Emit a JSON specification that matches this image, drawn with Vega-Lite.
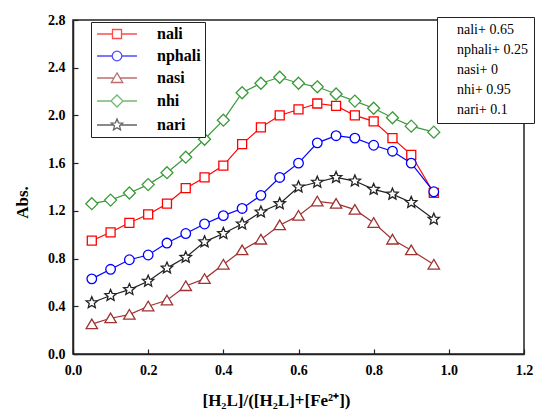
{
  "$schema": "https://vega.github.io/schema/vega-lite/v6.json",
  "width": 451,
  "height": 334,
  "autosize": "none",
  "padding": {"left": 73, "top": 20, "right": 13, "bottom": 59},
  "config": {
    "view": {"stroke": "#222", "strokeWidth": 1.5},
    "font": "Liberation Serif",
    "axis": {"domainColor": "#222", "domainWidth": 1.5, "tickColor": "#222", "tickWidth": 1.2, "grid": false, "labelFont": "Liberation Serif", "labelFontWeight": "bold", "labelFontSize": 14, "labelColor": "#000", "titleFont": "Liberation Serif", "titleFontWeight": "bold", "titleFontSize": 17, "titleColor": "#000"},
    "legend": {"labelFont": "Liberation Serif"}
  },
  "data": {"values": [
    {"series":"nali","x":0.05,"y":0.95},{"series":"nali","x":0.10,"y":1.02},{"series":"nali","x":0.15,"y":1.10},{"series":"nali","x":0.20,"y":1.17},{"series":"nali","x":0.25,"y":1.26},{"series":"nali","x":0.30,"y":1.39},{"series":"nali","x":0.35,"y":1.48},{"series":"nali","x":0.40,"y":1.58},{"series":"nali","x":0.45,"y":1.76},{"series":"nali","x":0.50,"y":1.90},{"series":"nali","x":0.55,"y":2.00},{"series":"nali","x":0.60,"y":2.05},{"series":"nali","x":0.65,"y":2.10},{"series":"nali","x":0.70,"y":2.08},{"series":"nali","x":0.75,"y":2.00},{"series":"nali","x":0.80,"y":1.95},{"series":"nali","x":0.85,"y":1.81},{"series":"nali","x":0.90,"y":1.67},{"series":"nali","x":0.96,"y":1.35},
    {"series":"nphali","x":0.05,"y":0.63},{"series":"nphali","x":0.10,"y":0.71},{"series":"nphali","x":0.15,"y":0.79},{"series":"nphali","x":0.20,"y":0.83},{"series":"nphali","x":0.25,"y":0.93},{"series":"nphali","x":0.30,"y":1.01},{"series":"nphali","x":0.35,"y":1.09},{"series":"nphali","x":0.40,"y":1.16},{"series":"nphali","x":0.45,"y":1.22},{"series":"nphali","x":0.50,"y":1.33},{"series":"nphali","x":0.55,"y":1.48},{"series":"nphali","x":0.60,"y":1.60},{"series":"nphali","x":0.65,"y":1.77},{"series":"nphali","x":0.70,"y":1.83},{"series":"nphali","x":0.75,"y":1.81},{"series":"nphali","x":0.80,"y":1.75},{"series":"nphali","x":0.85,"y":1.70},{"series":"nphali","x":0.90,"y":1.60},{"series":"nphali","x":0.96,"y":1.36},
    {"series":"nasi","x":0.05,"y":0.25},{"series":"nasi","x":0.10,"y":0.30},{"series":"nasi","x":0.15,"y":0.33},{"series":"nasi","x":0.20,"y":0.40},{"series":"nasi","x":0.25,"y":0.45},{"series":"nasi","x":0.30,"y":0.57},{"series":"nasi","x":0.35,"y":0.63},{"series":"nasi","x":0.40,"y":0.75},{"series":"nasi","x":0.45,"y":0.87},{"series":"nasi","x":0.50,"y":0.96},{"series":"nasi","x":0.55,"y":1.08},{"series":"nasi","x":0.60,"y":1.16},{"series":"nasi","x":0.65,"y":1.28},{"series":"nasi","x":0.70,"y":1.26},{"series":"nasi","x":0.75,"y":1.21},{"series":"nasi","x":0.80,"y":1.10},{"series":"nasi","x":0.85,"y":0.96},{"series":"nasi","x":0.90,"y":0.87},{"series":"nasi","x":0.96,"y":0.75},
    {"series":"nhi","x":0.05,"y":1.26},{"series":"nhi","x":0.10,"y":1.29},{"series":"nhi","x":0.15,"y":1.35},{"series":"nhi","x":0.20,"y":1.42},{"series":"nhi","x":0.25,"y":1.52},{"series":"nhi","x":0.30,"y":1.65},{"series":"nhi","x":0.35,"y":1.80},{"series":"nhi","x":0.40,"y":1.96},{"series":"nhi","x":0.45,"y":2.19},{"series":"nhi","x":0.50,"y":2.27},{"series":"nhi","x":0.55,"y":2.32},{"series":"nhi","x":0.60,"y":2.27},{"series":"nhi","x":0.65,"y":2.24},{"series":"nhi","x":0.70,"y":2.18},{"series":"nhi","x":0.75,"y":2.12},{"series":"nhi","x":0.80,"y":2.06},{"series":"nhi","x":0.85,"y":1.98},{"series":"nhi","x":0.90,"y":1.91},{"series":"nhi","x":0.96,"y":1.86},
    {"series":"nari","x":0.05,"y":0.43},{"series":"nari","x":0.10,"y":0.49},{"series":"nari","x":0.15,"y":0.54},{"series":"nari","x":0.20,"y":0.61},{"series":"nari","x":0.25,"y":0.72},{"series":"nari","x":0.30,"y":0.81},{"series":"nari","x":0.35,"y":0.94},{"series":"nari","x":0.40,"y":1.01},{"series":"nari","x":0.45,"y":1.09},{"series":"nari","x":0.50,"y":1.19},{"series":"nari","x":0.55,"y":1.26},{"series":"nari","x":0.60,"y":1.40},{"series":"nari","x":0.65,"y":1.44},{"series":"nari","x":0.70,"y":1.48},{"series":"nari","x":0.75,"y":1.45},{"series":"nari","x":0.80,"y":1.38},{"series":"nari","x":0.85,"y":1.34},{"series":"nari","x":0.90,"y":1.27},{"series":"nari","x":0.96,"y":1.13}
  ]},
  "layer": [
    {
      "mark": {"type": "line", "strokeWidth": 1.2},
      "encoding": {
        "x": {"field": "x", "type": "quantitative", "scale": {"domain": [0, 1.2], "nice": false},
          "axis": {"title": "[H₂L]/([H₂L]+[Fe²⁺])", "values": [0,0.1,0.2,0.3,0.4,0.5,0.6,0.7,0.8,0.9,1.0,1.1,1.2],
            "labelExpr": "round(datum.value*10) % 2 == 0 ? format(datum.value, '.1f') : ''",
            "tickSize": {"condition": {"test": "round(datum.value*10) % 2 == 0", "value": -5}, "value": -3},
            "labelPadding": 14, "titlePadding": 15, "titleX": 203, "labelFlush": false, "labelOverlap": false}},
        "y": {"field": "y", "type": "quantitative", "scale": {"domain": [0, 2.8], "nice": false},
          "axis": {"title": "Abs.", "values": [0,0.2,0.4,0.6,0.8,1.0,1.2,1.4,1.6,1.8,2.0,2.2,2.4,2.6,2.8],
            "labelExpr": "round(datum.value*10) % 4 == 0 ? format(datum.value, '.1f') : ''",
            "tickSize": {"condition": {"test": "round(datum.value*10) % 4 == 0", "value": -5}, "value": -3},
            "labelPadding": 13, "titlePadding": 16, "titleY": 182, "labelOverlap": false}},
        "color": {"field": "series", "type": "nominal",
          "scale": {"domain": ["nali","nphali","nasi","nhi","nari"], "range": ["#ff0000","#0000ff","#a03232","#3a9a3a","#222222"]},
          "legend": null}
      }
    },
    {
      "mark": {"type": "point", "filled": false, "fill": "white", "fillOpacity": 1, "strokeWidth": 1.3, "size": 144, "opacity": 1},
      "encoding": {
        "x": {"field": "x", "type": "quantitative"},
        "y": {"field": "y", "type": "quantitative"},
        "color": {"field": "series", "type": "nominal",
          "scale": {"domain": ["nali","nphali","nasi","nhi","nari"], "range": ["#ff0000","#0000ff","#a03232","#3a9a3a","#222222"]},
          "legend": null},
        "shape": {"field": "series", "type": "nominal",
          "scale": {"domain": ["nali","nphali","nasi","nhi","nari"], "range": [
            "M-0.75,-0.75H0.75V0.75H-0.75Z",
            "M0.8,0A0.8,0.8,0,1,1,-0.8,0A0.8,0.8,0,1,1,0.8,0Z",
            "M0,-0.85L0.95,0.75L-0.95,0.75Z",
            "M0,-1L1,0L0,1L-1,0Z",
            "M0,-1L0.2645,-0.364L0.951,-0.309L0.428,0.139L0.588,0.809L0,0.45L-0.588,0.809L-0.428,0.139L-0.951,-0.309L-0.2645,-0.364Z"
          ]},
          "legend": null}
      }
    },
    {
      "mark": {"type": "point", "filled": false, "size": 0},
      "encoding": {
        "color": {"field": "series", "type": "nominal",
          "scale": {"domain": ["nali","nphali","nasi","nhi","nari"], "range": ["#ff0000","#0000ff","#a03232","#3a9a3a","#222222"]},
          "legend": {"title": null, "orient": "none", "legendX": 18, "legendY": 2, "padding": 4, "strokeColor": "#222", "fillColor": "white", "symbolSize": 144, "symbolStrokeWidth": 1.3, "symbolFillColor": "white", "symbolOffset": 14, "labelOffset": 32, "labelFont": "Liberation Serif", "labelFontWeight": "bold", "labelFontSize": 16, "labelColor": "#000", "rowPadding": 6}},
        "shape": {"field": "series", "type": "nominal",
          "scale": {"domain": ["nali","nphali","nasi","nhi","nari"], "range": [
            "M-3.33,0H-0.75M0.75,0H3.33M-0.75,-0.75H0.75V0.75H-0.75Z",
            "M-3.33,0H-0.8M0.8,0H3.33M0.8,0A0.8,0.8,0,1,1,-0.8,0A0.8,0.8,0,1,1,0.8,0Z",
            "M-3.33,0H-0.5M0.5,0H3.33M0,-0.85L0.95,0.75L-0.95,0.75Z",
            "M-3.33,0H-1M1,0H3.33M0,-1L1,0L0,1L-1,0Z",
            "M-3.33,0H-0.59M0.59,0H3.33M0,-1L0.2645,-0.364L0.951,-0.309L0.428,0.139L0.588,0.809L0,0.45L-0.588,0.809L-0.428,0.139L-0.951,-0.309L-0.2645,-0.364Z"
          ]},
          "legend": {"title": null, "orient": "none", "legendX": 18, "legendY": 2, "padding": 4, "strokeColor": "#222", "fillColor": "white", "symbolSize": 144, "symbolStrokeWidth": 1.3, "symbolFillColor": "white", "symbolOffset": 14, "labelOffset": 32, "labelFont": "Liberation Serif", "labelFontWeight": "bold", "labelFontSize": 16, "labelColor": "#000", "rowPadding": 6}}
      }
    },
    {
      "data": {"values": [{"note": "nali+ 0.65"}, {"note": "nphali+ 0.25"}, {"note": "nasi+ 0"}, {"note": "nhi+ 0.95"}, {"note": "nari+ 0.1"}]},
      "mark": {"type": "point", "opacity": 0},
      "encoding": {
        "shape": {"field": "note", "type": "nominal",
          "scale": {"domain": ["nali+ 0.65", "nphali+ 0.25", "nasi+ 0", "nhi+ 0.95", "nari+ 0.1"]},
          "legend": {"title": null, "orient": "none", "legendX": 364, "legendY": -3, "padding": 6, "strokeColor": "#222", "fillColor": "white", "symbolSize": 0, "symbolStrokeWidth": 0, "symbolOpacity": 0, "labelOffset": 0, "labelFont": "Liberation Serif", "labelFontWeight": "normal", "labelFontSize": 14, "labelColor": "#000", "rowPadding": 6}}
      }
    }
  ],
  "resolve": {"scale": {"color": "independent", "shape": "independent"}}
}
